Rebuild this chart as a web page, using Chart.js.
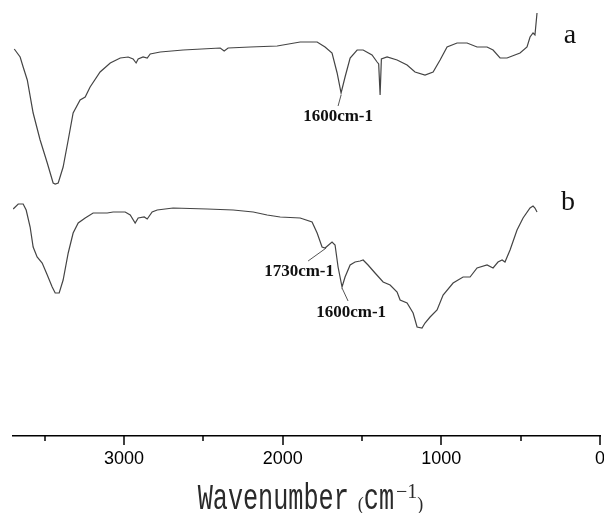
<!DOCTYPE html>
<html>
<head>
<meta charset="utf-8">
<script src="https://cdn.jsdelivr.net/npm/chart.js@4.4.1/dist/chart.umd.min.js"></script>
<style>
  html, body { margin: 0; padding: 0; background: #fff; }
</style>
</head>
<body>
<canvas id="ftirChart" width="604" height="513"></canvas>
<script>
// FTIR spectra, wavenumber in cm-1, transmittance in arbitrary units
const wavenumberA = [3692, 3655, 3636, 3610, 3573, 3529, 3484, 3447, 3434, 3415, 3384, 3352, 3321, 3277, 3245, 3214, 3151, 3087, 3024, 2974, 2943, 2924, 2911, 2880, 2854, 2835, 2772, 2628, 2394, 2369, 2344, 2205, 2035, 1890, 1783, 1733, 1689, 1657, 1632, 1607, 1575, 1531, 1493, 1437, 1405, 1395, 1386, 1378, 1342, 1279, 1216, 1166, 1103, 1052, 1008, 964, 901, 838, 775, 712, 674, 630, 586, 504, 460, 441, 422, 410, 397];
const transA = [387, 379, 369, 356, 323, 296, 273, 253, 252, 253, 269, 296, 323, 336, 339, 349, 364, 373, 378, 379, 377, 373, 377, 379, 378, 382, 384, 386, 388, 385, 388, 389, 390, 394, 394, 389, 383, 363, 343, 359, 378, 386, 386, 381, 374, 372, 341, 377, 379, 376, 371, 364, 361, 364, 376, 389, 393, 393, 389, 389, 386, 378, 378, 383, 389, 399, 403, 401, 423];

const wavenumberB = [3699, 3667, 3636, 3617, 3592, 3573, 3548, 3516, 3484, 3453, 3434, 3409, 3384, 3352, 3321, 3289, 3245, 3195, 3106, 3069, 2993, 2961, 2930, 2911, 2873, 2854, 2823, 2791, 2691, 2476, 2312, 2186, 2098, 2016, 1890, 1815, 1783, 1752, 1733, 1689, 1670, 1651, 1626, 1607, 1575, 1544, 1512, 1493, 1462, 1418, 1367, 1323, 1279, 1260, 1216, 1178, 1153, 1122, 1103, 1071, 1027, 989, 926, 863, 819, 775, 712, 674, 643, 617, 599, 567, 523, 485, 441, 422, 410, 397];
const transB = [227, 232, 232, 226, 209, 189, 179, 173, 161, 149, 143, 143, 156, 183, 203, 213, 218, 223, 223, 224, 224, 221, 213, 218, 219, 217, 224, 226, 228, 227, 226, 224, 221, 219, 218, 214, 203, 189, 188, 194, 191, 169, 149, 159, 171, 174, 175, 176, 171, 163, 154, 151, 144, 136, 133, 123, 109, 108, 113, 119, 126, 141, 153, 159, 159, 168, 171, 168, 174, 176, 174, 186, 206, 218, 228, 230, 228, 224];

const majorTicks = [3000, 2000, 1000, 0];
const minorTicks = [3500, 2500, 1500, 500];

// peak callouts, given in data units (wavenumber, transmittance)
const peakNotes = [
  { text: '1600cm-1', line: [[1632, 341], [1651, 330]], textAt: [1871, 319] },
  { text: '1730cm-1', line: [[1726, 188], [1840, 175]], textAt: [2117, 164] },
  { text: '1600cm-1', line: [[1626, 148], [1588, 135]], textAt: [1789, 123] }
];
const curveNames = [
  { text: 'a', at: [189, 400] },
  { text: 'b', at: [202, 233] }
];

function pairUp(xs, ys) {
  return xs.map((x, i) => ({ x: x, y: ys[i] }));
}

const lineColor = '#444';

const decorPlugin = {
  id: 'decor',
  afterDraw(chart) {
    const ctx = chart.ctx;
    const area = chart.chartArea;
    const xs = chart.scales.x;
    const ys = chart.scales.y;
    ctx.save();

    // tick marks hanging below the axis line
    ctx.strokeStyle = '#000';
    ctx.lineWidth = 1.5;
    majorTicks.concat(minorTicks).forEach(v => {
      const px = Math.round(xs.getPixelForValue(v));
      const len = majorTicks.includes(v) ? 9 : 5;
      ctx.beginPath();
      ctx.moveTo(px, area.bottom);
      ctx.lineTo(px, area.bottom + len);
      ctx.stroke();
    });

    // peak callouts
    ctx.strokeStyle = '#555';
    ctx.lineWidth = 1;
    ctx.fillStyle = '#111';
    ctx.font = 'bold 17px "Liberation Serif", "Times New Roman", serif';
    ctx.textAlign = 'left';
    ctx.textBaseline = 'middle';
    peakNotes.forEach(n => {
      ctx.beginPath();
      ctx.moveTo(xs.getPixelForValue(n.line[0][0]), ys.getPixelForValue(n.line[0][1]));
      ctx.lineTo(xs.getPixelForValue(n.line[1][0]), ys.getPixelForValue(n.line[1][1]));
      ctx.stroke();
      ctx.fillText(n.text, xs.getPixelForValue(n.textAt[0]), ys.getPixelForValue(n.textAt[1]));
    });

    // curve names
    ctx.font = '28px "Liberation Serif", "Times New Roman", serif';
    ctx.textAlign = 'center';
    curveNames.forEach(c => {
      ctx.fillText(c.text, xs.getPixelForValue(c.at[0]), ys.getPixelForValue(c.at[1]));
    });

    // axis title: Wavenumber (cm-1), narrow mono face with superscript
    const sx = 0.7;
    const base = 509;
    const mainFont = '36px "Liberation Mono", monospace';
    const smallFont = '18px "Liberation Serif", serif';
    const supFont = '20px "Liberation Serif", serif';
    ctx.textAlign = 'left';
    ctx.textBaseline = 'alphabetic';
    ctx.fillStyle = '#2a2a2a';
    ctx.font = mainFont;
    const wMain = ctx.measureText('Wavenumber').width * sx;
    const wCm = ctx.measureText('cm').width * sx;
    ctx.font = smallFont;
    const wParen = ctx.measureText('(').width;
    ctx.font = supFont;
    const wSup = ctx.measureText('\u22121').width;
    const gap = 9;
    const total = wMain + gap + wParen + wCm + 2 + wSup + wParen;
    let cx = (area.left + area.right) / 2 + 4 - total / 2;

    function scaled(t, x) {
      ctx.save();
      ctx.translate(x, base);
      ctx.scale(sx, 1);
      ctx.fillText(t, 0, 0);
      ctx.restore();
    }
    ctx.font = mainFont;
    scaled('Wavenumber', cx);
    cx += wMain + gap;
    ctx.font = smallFont;
    ctx.fillText('(', cx, base + 1);
    cx += wParen;
    ctx.font = mainFont;
    scaled('cm', cx);
    cx += wCm + 2;
    ctx.font = supFont;
    ctx.fillText('\u22121', cx, base - 11);
    cx += wSup;
    ctx.font = smallFont;
    ctx.fillText(')', cx, base + 1);

    ctx.restore();
  }
};

new Chart(document.getElementById('ftirChart'), {
  type: 'scatter',
  data: {
    datasets: [
      { label: 'a', data: pairUp(wavenumberA, transA), showLine: true, borderColor: lineColor, borderWidth: 1.2, pointRadius: 0, tension: 0 },
      { label: 'b', data: pairUp(wavenumberB, transB), showLine: true, borderColor: lineColor, borderWidth: 1.2, pointRadius: 0, tension: 0 }
    ]
  },
  options: {
    responsive: false,
    animation: false,
    layout: { padding: { left: 13, right: 4, top: 0, bottom: 0 } },
    plugins: { legend: { display: false }, tooltip: { enabled: false } },
    scales: {
      x: {
        type: 'linear',
        reverse: true,
        min: 0,
        max: 3700,
        afterBuildTicks: s => { s.ticks = majorTicks.map(v => ({ value: v })); },
        afterFit: s => { s.height = 77; s.paddingLeft = 0; s.paddingRight = 0; },
        grid: { display: false, drawTicks: false },
        border: { display: true, color: '#000', width: 1.6 },
        ticks: {
          autoSkip: false,
          maxRotation: 0,
          padding: 12,
          color: '#000',
          font: { family: '"Liberation Sans", Arial, sans-serif', size: 18 },
          callback: v => String(v)
        }
      },
      y: { display: false, min: 0, max: 436 }
    }
  },
  plugins: [decorPlugin]
});
</script>
</body>
</html>
